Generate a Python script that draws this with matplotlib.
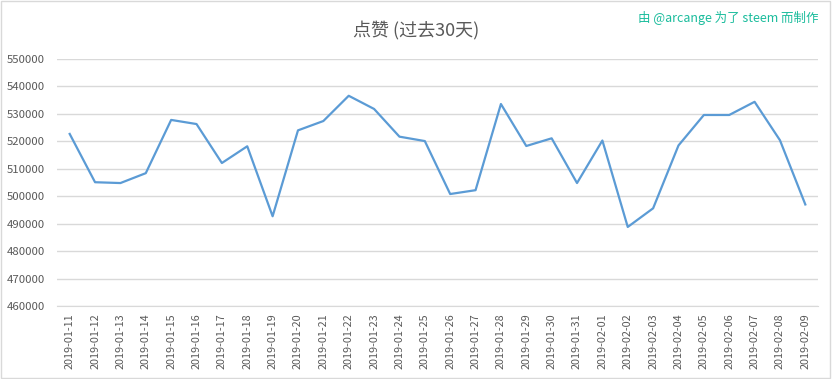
import matplotlib.pyplot as plt

plt.rcParams['font.family'] = ['Noto Sans CJK SC', 'DejaVu Sans']

dates = ["2019-01-11", "2019-01-12", "2019-01-13", "2019-01-14", "2019-01-15",
         "2019-01-16", "2019-01-17", "2019-01-18", "2019-01-19", "2019-01-20",
         "2019-01-21", "2019-01-22", "2019-01-23", "2019-01-24", "2019-01-25",
         "2019-01-26", "2019-01-27", "2019-01-28", "2019-01-29", "2019-01-30",
         "2019-01-31", "2019-02-01", "2019-02-02", "2019-02-03", "2019-02-04",
         "2019-02-05", "2019-02-06", "2019-02-07", "2019-02-08", "2019-02-09"]
votes = [522700, 505100, 504800, 508400, 527800, 526300, 512100, 518200, 492700, 524000,
         527400, 536600, 531800, 521700, 520100, 500800, 502200, 533600, 518300, 521100,
         504800, 520300, 488800, 495600, 518500, 529600, 529600, 534400, 520400, 497000]
yticks = list(range(460000, 550001, 10000))

fig = plt.figure(figsize=(8.32, 3.79), dpi=100)
ax = fig.add_axes([57/832, 1 - 306/379, 761/832, 247/379])

x = list(range(len(dates)))
ax.plot(x, votes, color='#5b9bd5', linewidth=1.6)

ax.set_xlim(-0.5, len(dates) - 0.5)
ax.set_ylim(460000, 550000)
ax.set_yticks(yticks)
ax.set_yticklabels([str(v) for v in yticks])
ax.set_xticks(x)
ax.set_xticklabels(dates, rotation=90)
ax.tick_params(axis='y', length=0, labelsize=8.2, colors='#595959', pad=9)
ax.tick_params(axis='x', length=0, labelsize=7.8, colors='#595959', pad=5)
ax.grid(axis='y', color='#d9d9d9', linewidth=1)
ax.set_axisbelow(True)
for s in ['top', 'right', 'left']:
    ax.spines[s].set_visible(False)
ax.spines['bottom'].set_color('#d9d9d9')

fig.text(0.5, 1 - 31/379, "点赞 (过去30天)", ha='center', va='center',
         fontsize=13, color='#595959')
fig.text(818/832, 1 - 18/379, "由 @arcange 为了 steem 而制作", ha='right', va='center',
         fontsize=9, color='#1abc9c')

fig.patches.append(plt.Rectangle((0.001, 0.002), 0.997, 0.995, transform=fig.transFigure,
                                 fill=False, edgecolor='#d9d9d9', linewidth=1))

fig.savefig('out.png', dpi=100)
